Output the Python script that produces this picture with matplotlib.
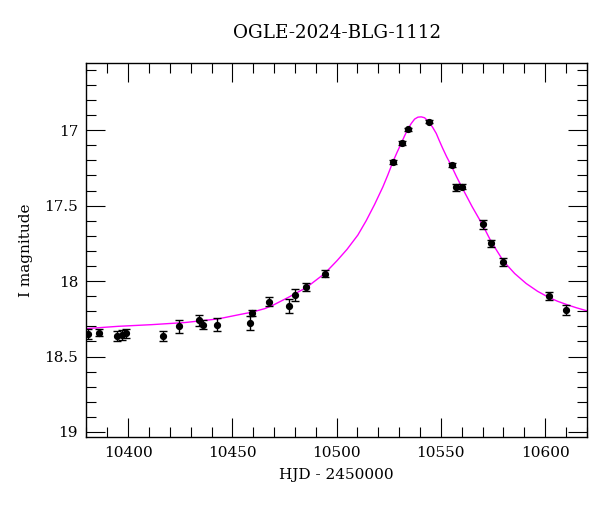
import numpy as np
import matplotlib
matplotlib.use("Agg")
import matplotlib.pyplot as plt
from matplotlib.ticker import MultipleLocator

# -----------------------------
# Photometry (HJD - 2450000, I mag, error)
# -----------------------------
hjd = [10380.9, 10386.0, 10394.8, 10396.9, 10398.8, 10416.8, 10424.5, 10433.9,
       10435.8, 10442.7, 10458.3, 10459.4, 10467.6, 10477.3, 10480.2, 10485.5,
       10494.3, 10527.0, 10531.3, 10534.2, 10544.1, 10555.2, 10557.3, 10560.0,
       10570.1, 10574.1, 10580.0, 10602.0, 10610.0]
mag = [18.351, 18.342, 18.364, 18.357, 18.346, 18.364, 18.300, 18.260,
       18.288, 18.288, 18.278, 18.212, 18.136, 18.163, 18.094, 18.039,
       17.950, 17.210, 17.084, 16.993, 16.945, 17.232, 17.380, 17.376,
       17.625, 17.751, 17.873, 18.101, 18.190]
err = [0.030, 0.025, 0.031, 0.031, 0.031, 0.031, 0.044, 0.035,
       0.028, 0.044, 0.044, 0.022, 0.031, 0.046, 0.040, 0.029,
       0.026, 0.015, 0.012, 0.010, 0.010, 0.012, 0.020, 0.016,
       0.031, 0.026, 0.029, 0.026, 0.033]

# model curve
model_t = [10380.0, 10395.2, 10411.2, 10427.2, 10443.1, 10453.5, 10459.1, 10465.5,
           10469.5, 10477.0, 10485.5, 10494.3, 10500.2, 10505.0, 10510.2, 10514.2,
           10518.2, 10522.2, 10524.6, 10527.0, 10529.0, 10531.0, 10532.6, 10534.2,
           10535.8, 10537.4, 10539.0, 10540.6, 10542.2, 10544.2, 10546.1, 10547.8,
           10549.3, 10550.9, 10552.8, 10554.9, 10557.5, 10560.0, 10565.0, 10570.1,
           10574.1, 10580.0, 10585.4, 10590.9, 10596.4, 10602.0, 10606.0, 10611.0,
           10615.0, 10620.0]
model_mag = [18.315, 18.300, 18.289, 18.275, 18.251, 18.222, 18.207, 18.183,
             18.160, 18.107, 18.043, 17.950, 17.865, 17.790, 17.695, 17.600,
             17.493, 17.376, 17.296, 17.210, 17.147, 17.088, 17.038, 16.993,
             16.956, 16.927, 16.914, 16.912, 16.918, 16.945, 16.982, 17.022,
             17.071, 17.121, 17.177, 17.232, 17.308, 17.376, 17.507, 17.630,
             17.738, 17.868, 17.950, 18.016, 18.068, 18.110, 18.134, 18.159,
             18.177, 18.197]

title = "OGLE-2024-BLG-1112"

plt.rcParams['font.family'] = 'DejaVu Serif'
plt.rcParams['font.size'] = 11

fig = plt.figure(figsize=(6, 5.12), dpi=100)
ax = fig.add_axes([0.144, 0.146, 0.834, 0.731])

ax.plot(model_t, model_mag, '-', color='#ff00ff', lw=1.0, zorder=1)
ax.errorbar(hjd, mag, yerr=err, fmt='o', color='black', ms=4.2,
            elinewidth=1.0, capsize=3.2, capthick=1.0, zorder=2)

ax.set_xlim(10380, 10620)
ax.set_ylim(19.035, 16.555)
ax.xaxis.set_major_locator(MultipleLocator(50))
ax.xaxis.set_minor_locator(MultipleLocator(10))
ax.yaxis.set_major_locator(MultipleLocator(0.5))
ax.yaxis.set_minor_locator(MultipleLocator(0.1))
ax.yaxis.set_major_formatter(plt.FuncFormatter(lambda v, p: f"{v:g}"))

ax.tick_params(which='both', direction='in', top=True, right=True, width=0.8)
ax.tick_params(which='major', length=14, pad=6)
ax.tick_params(which='minor', length=7)
for s in ax.spines.values():
    s.set_linewidth(1.0)

ax.set_xlabel("HJD - 2450000", labelpad=6)
ax.set_ylabel("I magnitude", labelpad=8)
ax.set_title(title, pad=18)

fig.savefig("out.png", dpi=100)
